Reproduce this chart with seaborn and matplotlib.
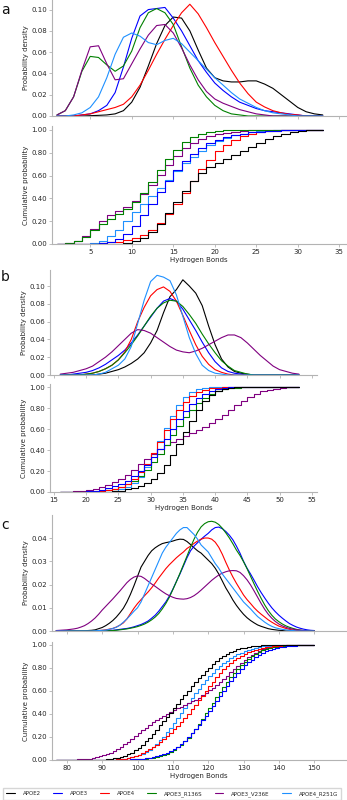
import matplotlib
matplotlib.use("Agg")
import matplotlib.pyplot as plt
import pandas as pd
import seaborn as sns
from matplotlib.ticker import FormatStrFormatter

variants = ["APOE2", "APOE3", "APOE4", "APOE3_R136S", "APOE3_V236E", "APOE4_R251G"]
colors = ["black", "blue", "red", "green", "purple", "dodgerblue"]

# ---- panel a: hydrogen bond count and density
hb_a = list(range(1, 34))
a_apoe2 = [0, 0, 0, 0, 0.0003, 0.0006, 0.001, 0.002, 0.005, 0.013, 0.027, 0.047, 0.068,
           0.085, 0.093, 0.092, 0.080, 0.062, 0.045, 0.036, 0.033, 0.032, 0.032, 0.033,
           0.033, 0.030, 0.026, 0.020, 0.014, 0.008, 0.004, 0.002, 0.001]
a_apoe3 = [0, 0, 0, 0.001, 0.002, 0.005, 0.010, 0.022, 0.046, 0.073, 0.094, 0.100, 0.101,
           0.102, 0.092, 0.080, 0.066, 0.052, 0.041, 0.031, 0.024, 0.018, 0.013, 0.010,
           0.007, 0.005, 0.004, 0.003, 0.002, 0.001, 0, 0, 0]
a_apoe4 = [0, 0, 0, 0.001, 0.002, 0.004, 0.006, 0.008, 0.011, 0.018, 0.029, 0.043, 0.058,
           0.072, 0.085, 0.097, 0.105, 0.096, 0.083, 0.069, 0.056, 0.043, 0.031, 0.021,
           0.013, 0.0085, 0.005, 0.003, 0.0015, 0.001, 0, 0, 0]
a_r136s = [0.001, 0.005, 0.018, 0.042, 0.056, 0.055, 0.048, 0.042, 0.047, 0.061, 0.083,
           0.097, 0.101, 0.097, 0.086, 0.065, 0.045, 0.029, 0.018, 0.010, 0.005, 0.002,
           0.001, 0, 0, 0, 0, 0, 0, 0, 0, 0, 0]
a_v236e = [0.001, 0.005, 0.018, 0.043, 0.065, 0.066, 0.049, 0.034, 0.035, 0.049, 0.063,
           0.076, 0.085, 0.086, 0.078, 0.064, 0.048, 0.034, 0.023, 0.016, 0.012, 0.009,
           0.006, 0.004, 0.002, 0.001, 0, 0, 0, 0, 0, 0, 0]
a_r251g = [0, 0, 0.001, 0.003, 0.008, 0.018, 0.036, 0.058, 0.074, 0.078, 0.075, 0.069,
           0.067, 0.071, 0.073, 0.068, 0.060, 0.052, 0.044, 0.036, 0.029, 0.022, 0.016,
           0.012, 0.008, 0.005, 0.003, 0.002, 0.001, 0, 0, 0, 0]

# ---- panel b
hb_b = list(range(16, 54))
b_apoe2 = [0, 0, 0, 0, 0, 0, 0.001, 0.002, 0.004, 0.006, 0.009, 0.013, 0.018, 0.025,
           0.036, 0.050, 0.070, 0.088, 0.096, 0.107, 0.100, 0.092, 0.078, 0.055, 0.034,
           0.018, 0.009, 0.004, 0.002, 0.001, 0, 0, 0, 0, 0, 0, 0, 0]
b_apoe3 = [0, 0, 0.001, 0.002, 0.003, 0.005, 0.008, 0.012, 0.017, 0.022, 0.028, 0.036,
           0.045, 0.055, 0.065, 0.075, 0.083, 0.086, 0.083, 0.074, 0.062, 0.050, 0.037,
           0.025, 0.015, 0.008, 0.004, 0.002, 0.001, 0, 0, 0, 0, 0, 0, 0, 0, 0]
b_apoe4 = [0, 0, 0, 0, 0.001, 0.002, 0.004, 0.007, 0.011, 0.017, 0.026, 0.040, 0.060,
           0.076, 0.089, 0.096, 0.099, 0.094, 0.083, 0.067, 0.050, 0.034, 0.021, 0.012,
           0.006, 0.003, 0.001, 0, 0, 0, 0, 0, 0, 0, 0, 0, 0, 0]
b_r136s = [0, 0, 0, 0, 0.001, 0.002, 0.004, 0.007, 0.011, 0.017, 0.025, 0.034, 0.044,
           0.055, 0.066, 0.075, 0.081, 0.084, 0.083, 0.077, 0.068, 0.058, 0.046, 0.035,
           0.025, 0.016, 0.010, 0.005, 0.003, 0.001, 0, 0, 0, 0, 0, 0, 0, 0]
b_v236e = [0.001, 0.002, 0.003, 0.005, 0.007, 0.010, 0.015, 0.020, 0.026, 0.033, 0.040,
           0.047, 0.051, 0.050, 0.047, 0.042, 0.037, 0.032, 0.028, 0.026, 0.025, 0.027,
           0.030, 0.034, 0.038, 0.042, 0.045, 0.045, 0.042, 0.036, 0.029, 0.022, 0.016,
           0.010, 0.006, 0.004, 0.002, 0.001]
b_r251g = [0, 0, 0, 0, 0, 0, 0.001, 0.003, 0.007, 0.011, 0.018, 0.032, 0.058, 0.084,
           0.105, 0.112, 0.110, 0.106, 0.090, 0.066, 0.042, 0.024, 0.011, 0.005, 0.002,
           0.001, 0, 0, 0, 0, 0, 0, 0, 0, 0, 0, 0, 0]

# ---- panel c
hb_c = list(range(77, 151))
c_apoe2 = [0, 0, 0, 0, 0, 0, 0, 0, 0, 0.0002,
           0.0003, 0.0005, 0.001, 0.0015, 0.0023, 0.0033, 0.0045, 0.006, 0.0078, 0.0098,
           0.0125, 0.0158, 0.0195, 0.0235, 0.0275, 0.030, 0.0325, 0.0345, 0.0358, 0.0368,
           0.0376, 0.038, 0.0383, 0.0387, 0.0392, 0.0395, 0.0394, 0.0385, 0.0372, 0.0358,
           0.0345, 0.0335, 0.032, 0.0305, 0.029, 0.027, 0.0245, 0.0215, 0.0185, 0.016,
           0.0133, 0.011, 0.009, 0.0072, 0.0057, 0.0045, 0.0035, 0.0026, 0.002, 0.0015,
           0.001, 0.0007, 0.0005, 0.0003, 0.0002, 0, 0, 0, 0, 0,
           0, 0, 0, 0]
c_apoe3 = [0, 0, 0, 0, 0, 0, 0, 0, 0, 0,
           0, 0, 0, 0, 0, 0.0002, 0.0003, 0.0005, 0.0007, 0.0009,
           0.0011, 0.0014, 0.0018, 0.0023, 0.0028, 0.0035, 0.0043, 0.0055, 0.0068, 0.0085,
           0.0105, 0.0125, 0.015, 0.018, 0.0213, 0.0245, 0.028, 0.0315, 0.0345, 0.0365,
           0.038, 0.0395, 0.0408, 0.042, 0.0435, 0.0445, 0.0447, 0.044, 0.0428, 0.0412,
           0.0392, 0.0365, 0.0335, 0.030, 0.027, 0.0245, 0.0218, 0.019, 0.0165, 0.0142,
           0.012, 0.010, 0.0083, 0.0068, 0.0055, 0.0043, 0.0032, 0.0024, 0.0017, 0.0012,
           0.0008, 0.0005, 0.0003, 0.0002]
c_apoe4 = [0, 0, 0, 0, 0, 0, 0, 0, 0, 0,
           0, 0.0001, 0.0002, 0.0003, 0.0005, 0.0008, 0.0011, 0.0017, 0.0025, 0.0035,
           0.0052, 0.0075, 0.0098, 0.0118, 0.0135, 0.0152, 0.0168, 0.0186, 0.0206, 0.0228,
           0.0248, 0.0268, 0.0285, 0.030, 0.0315, 0.0328, 0.034, 0.0355, 0.0365, 0.0377,
           0.0387, 0.0395, 0.040, 0.040, 0.0395, 0.0382, 0.036, 0.033, 0.0295, 0.0262,
           0.0232, 0.0205, 0.018, 0.0155, 0.0135, 0.0118, 0.010, 0.0085, 0.0072, 0.006,
           0.0048, 0.0038, 0.0029, 0.0021, 0.0016, 0.0011, 0.0007, 0.0004, 0.0003, 0.0002,
           0.0001, 0, 0, 0]
c_r136s = [0, 0, 0, 0, 0, 0, 0, 0, 0, 0,
           0, 0, 0, 0, 0, 0.0001, 0.0002, 0.0003, 0.0005, 0.0007,
           0.0009, 0.0012, 0.0015, 0.0019, 0.0024, 0.003, 0.0038, 0.0048, 0.006, 0.0075,
           0.0095, 0.0118, 0.0145, 0.0178, 0.0212, 0.0248, 0.0285, 0.0322, 0.036, 0.0395,
           0.0425, 0.0448, 0.0462, 0.047, 0.0472, 0.0468, 0.0458, 0.0442, 0.0422, 0.040,
           0.0375, 0.0348, 0.0325, 0.0298, 0.0268, 0.0235, 0.0202, 0.017, 0.014, 0.0112,
           0.0088, 0.0068, 0.0052, 0.004, 0.003, 0.0022, 0.0016, 0.0011, 0.0007, 0.0004,
           0.0002, 0.0001, 0, 0]
c_v236e = [0.0002, 0.0003, 0.0004, 0.0005, 0.0007, 0.0009, 0.0012, 0.0017, 0.0023, 0.0032,
           0.0043, 0.0056, 0.0072, 0.009, 0.0106, 0.0122, 0.0138, 0.0155, 0.0172, 0.019,
           0.0208, 0.0222, 0.0232, 0.0237, 0.0235, 0.0226, 0.0214, 0.0202, 0.0192, 0.0181,
           0.017, 0.016, 0.0152, 0.0145, 0.014, 0.0138, 0.0137, 0.0139, 0.0144, 0.0152,
           0.0163, 0.0176, 0.019, 0.0204, 0.0218, 0.023, 0.0241, 0.0249, 0.0255, 0.0259,
           0.026, 0.0259, 0.0252, 0.0238, 0.022, 0.0198, 0.0172, 0.0145, 0.0118, 0.0093,
           0.0072, 0.0055, 0.0041, 0.003, 0.0022, 0.0016, 0.0011, 0.0008, 0.0005, 0.0004,
           0.0002, 0.0001, 0, 0]
c_r251g = [0, 0, 0, 0, 0, 0, 0, 0, 0, 0,
           0, 0.0001, 0.0002, 0.0003, 0.0004, 0.0007, 0.0011, 0.0016, 0.0025, 0.0038,
           0.0052, 0.0068, 0.0085, 0.010, 0.0125, 0.016, 0.0195, 0.023, 0.0265, 0.030,
           0.0335, 0.036, 0.038, 0.040, 0.042, 0.0435, 0.0445, 0.0445, 0.043, 0.0415,
           0.0395, 0.037, 0.0355, 0.034, 0.0315, 0.029, 0.027, 0.0245, 0.0225, 0.0205,
           0.0185, 0.0165, 0.0145, 0.0125, 0.011, 0.0095, 0.0078, 0.0062, 0.005, 0.0038,
           0.0028, 0.002, 0.0014, 0.001, 0.0007, 0.0005, 0.0003, 0.0002, 0, 0,
           0, 0, 0, 0]

W, H = 347, 800


def box(left, top, right, bottom):
    # pixel box -> figure fraction rect
    return [left / W, 1 - bottom / H, (right - left) / W, (bottom - top) / H]


def long_table(hb, series):
    parts = [pd.DataFrame({"hb": hb, "density": s, "variant": v})
             for v, s in zip(variants, series)]
    return pd.concat(parts, ignore_index=True)


panels = [
    dict(letter="a", letter_y=10, hb=hb_a,
         series=[a_apoe2, a_apoe3, a_apoe4, a_r136s, a_v236e, a_r251g],
         top=box(52, 0, 346, 116), bottom=box(52, 126, 346, 244),
         xlim=(0.4, 35.8), xticks=range(5, 36, 5),
         dmax=0.109, dticks=[0, 0.02, 0.04, 0.06, 0.08, 0.10], cmax=1.035),
    dict(letter="b", letter_y=277, hb=hb_b,
         series=[b_apoe2, b_apoe3, b_apoe4, b_r136s, b_v236e, b_r251g],
         top=box(50, 270, 317, 375), bottom=box(50, 384, 317, 492),
         xlim=(14.4, 55.8), xticks=range(15, 56, 5),
         dmax=0.118, dticks=[0, 0.02, 0.04, 0.06, 0.08, 0.10], cmax=1.03),
    dict(letter="c", letter_y=525, hb=hb_c,
         series=[c_apoe2, c_apoe3, c_apoe4, c_r136s, c_v236e, c_r251g],
         top=box(52, 515, 346, 631), bottom=box(52, 642, 346, 760),
         xlim=(75.8, 159), xticks=range(80, 151, 10),
         dmax=0.0499, dticks=[0, 0.01, 0.02, 0.03, 0.04], cmax=1.026),
]

sns.set_style("ticks", {"axes.edgecolor": "#b3b3b3",
                        "xtick.color": "#b3b3b3", "ytick.color": "#b3b3b3"})
plt.rcParams["font.family"] = ["DejaVu Sans"]
plt.rcParams.update({
    "xtick.labelcolor": "#262626", "ytick.labelcolor": "#262626",
    "axes.labelcolor": "#262626",
    "xtick.major.size": 2, "ytick.major.size": 2,
    "xtick.major.width": 0.6, "ytick.major.width": 0.6,
    "xtick.major.pad": 1.5, "ytick.major.pad": 1.5,
    "xtick.labelsize": 5, "ytick.labelsize": 5, "axes.labelsize": 5,
    "axes.linewidth": 0.8,
})

palette = dict(zip(variants, colors))
fig = plt.figure(figsize=(W / 100, H / 100), dpi=100)

for p in panels:
    df = long_table(p["hb"], p["series"])
    ax_d = fig.add_axes(p["top"])
    ax_c = fig.add_axes(p["bottom"])

    sns.lineplot(data=df, x="hb", y="density", hue="variant", hue_order=variants,
                 palette=palette, estimator=None, linewidth=0.8, legend=False, ax=ax_d)
    sns.ecdfplot(data=df, x="hb", weights="density", hue="variant", hue_order=variants,
                 palette=palette, linewidth=0.8, legend=False, ax=ax_c)

    for ax in (ax_d, ax_c):
        ax.set_xlim(*p["xlim"])
        ax.set_xticks(list(p["xticks"]))
        sns.despine(ax=ax)

    ax_d.set_ylim(0, p["dmax"])
    ax_d.set_yticks(p["dticks"])
    ax_d.yaxis.set_major_formatter(FormatStrFormatter("%.2f"))
    ax_d.tick_params(axis="x", labelbottom=False)
    ax_d.set_xlabel("")
    ax_d.set_ylabel("Probability density", labelpad=2)

    ax_c.set_ylim(0, p["cmax"])
    ax_c.set_yticks([0, 0.2, 0.4, 0.6, 0.8, 1.0])
    ax_c.yaxis.set_major_formatter(FormatStrFormatter("%.2f"))
    ax_c.set_xlabel("Hydrogen Bonds", labelpad=1.5)
    ax_c.set_ylabel("Cumulative probability", labelpad=2)

    fig.text(1 / W, 1 - p["letter_y"] / H, p["letter"], fontsize=10,
             ha="left", va="center", color="#111111")

handles = [plt.Line2D([], [], color=c, lw=0.8) for c in colors]
fig.legend(handles, variants, loc="center", bbox_to_anchor=(172 / W, 1 - 794 / H),
           ncol=6, fontsize=4, frameon=True, fancybox=False, edgecolor="#cccccc",
           handlelength=1.6, handletextpad=1.4, columnspacing=2.2, borderpad=0.5)

fig.savefig("out.png", dpi=100)
